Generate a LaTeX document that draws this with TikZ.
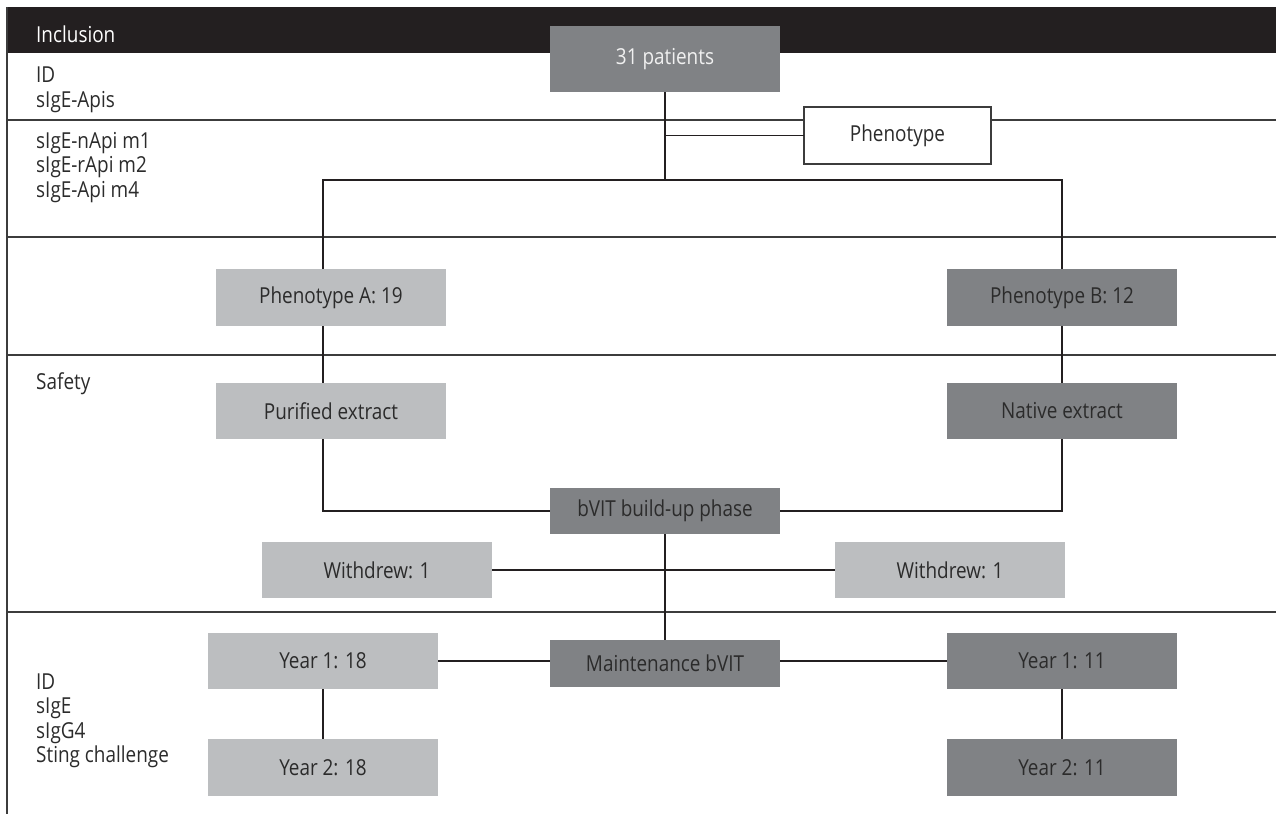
\documentclass[tikz,border=0pt]{standalone}
\usepackage{fontspec}
\setmainfont{Open Sans}[FakeStretch=0.86]
\definecolor{barblack}{HTML}{231F20}
\definecolor{darkbox}{HTML}{808285}
\definecolor{lightbox}{HTML}{BCBEC0}
\definecolor{txt}{HTML}{2B2B2B}
\definecolor{sepline}{HTML}{3C3C3C}
\tikzset{
  box/.style={minimum width=230pt, minimum height=57pt, inner sep=0pt, outer sep=0pt,
              font=\fontsize{22}{24}\selectfont, text=txt},
  darkb/.style={box, fill=darkbox},
  lightb/.style={box, fill=lightbox},
  conn/.style={draw=barblack, line width=1.1pt},
  sepl/.style={draw=sepline, line width=1.2pt},
  lbl/.style={anchor=base west, inner sep=0pt, font=\fontsize{22}{24}\selectfont, text=txt},
}
\begin{document}
\begin{tikzpicture}[x=1pt, y=-1pt]
\useasboundingbox (0,0) rectangle (1276,814);
% frame
\fill[barblack] (7,7) rectangle (1276,53);
\draw[sepl] (7,7) -- (7,814);
\draw[sepl] (7,120) -- (1276,120);
\draw[sepl] (7,237) -- (1276,237);
\draw[sepl] (7,355) -- (1276,355);
\draw[sepl] (7,612) -- (1276,612);
% left labels
\node[lbl, text=white] (lincl) at (36,42) {Inclusion};
\node[lbl] (lid1) at (36,82) {ID};
\node[lbl] (lsa) at (36,107) {sIgE-Apis};
\node[lbl] (lm1) at (36,148) {sIgE-nApi m1};
\node[lbl] (lm2) at (36,172.5) {sIgE-rApi m2};
\node[lbl] (lm4) at (36,197) {sIgE-Api m4};
\node[lbl] (lsaf) at (36,389) {Safety};
\node[lbl] (lid2) at (36,689) {ID};
\node[lbl] (lsige) at (36,713.5) {sIgE};
\node[lbl] (lsigg) at (36,738) {sIgG4};
\node[lbl] (lsting) at (36,762.5) {Sting challenge};
% boxes
\node[darkb, minimum height=66pt, text=white!94!black] (pat) at (665,59) {31 patients};
\node[box, fill=white, draw=sepline, line width=1.2pt, minimum width=187pt] (phen) at (897.5,135.5) {Phenotype};
\node[lightb] (pA) at (331,297.5) {Phenotype A: 19};
\node[darkb] (pB) at (1062,297.5) {Phenotype B: 12};
\node[lightb, minimum height=56pt] (pur) at (331,411) {Purified extract};
\node[darkb, minimum height=56pt] (nat) at (1062,411) {Native extract};
\node[darkb, minimum height=46pt] (bvit) at (665,511) {bVIT build-up phase};
\node[lightb, minimum height=56pt] (w1) at (377,570) {Withdrew: 1};
\node[lightb, minimum height=56pt] (w2) at (950,570) {Withdrew: 1};
\node[darkb, minimum height=47pt] (maint) at (665,663.5) {Maintenance bVIT};
\node[lightb, minimum height=56pt] (y1a) at (323,661) {Year 1: 18};
\node[lightb, minimum height=57pt] (y2a) at (323,767.5) {Year 2: 18};
\node[darkb, minimum height=56pt] (y1b) at (1062,661) {Year 1: 11};
\node[darkb, minimum height=57pt] (y2b) at (1062,767.5) {Year 2: 11};
% junctions
\coordinate (jT) at (665,180);
\coordinate (jL) at (323,180);
\coordinate (jR) at (1062,180);
% connectors
\draw[conn] (pat.south) -- (jT);
\draw[conn] (pat.south |- phen.west) -- (phen.west);
\draw[conn] (pA.north -| jL) -- (jL) -- (jR) -- (pB.north);
\draw[conn] (pA.south -| jL) -- (pur.north -| jL);
\draw[conn] (pB.south) -- (nat.north);
\draw[conn] (pur.south -| jL) |- (bvit.west);
\draw[conn] (nat.south) |- (bvit.east);
\draw[conn] (bvit.south) -- (maint.north);
\draw[conn] (w1.east) -- (w2.west);
\draw[conn] (y1a.east) -- (y1a.east -| maint.west);
\draw[conn] (maint.east |- y1b.west) -- (y1b.west);
\draw[conn] (y1a.south) -- (y2a.north);
\draw[conn] (y1b.south) -- (y2b.north);
\end{tikzpicture}
\end{document}
